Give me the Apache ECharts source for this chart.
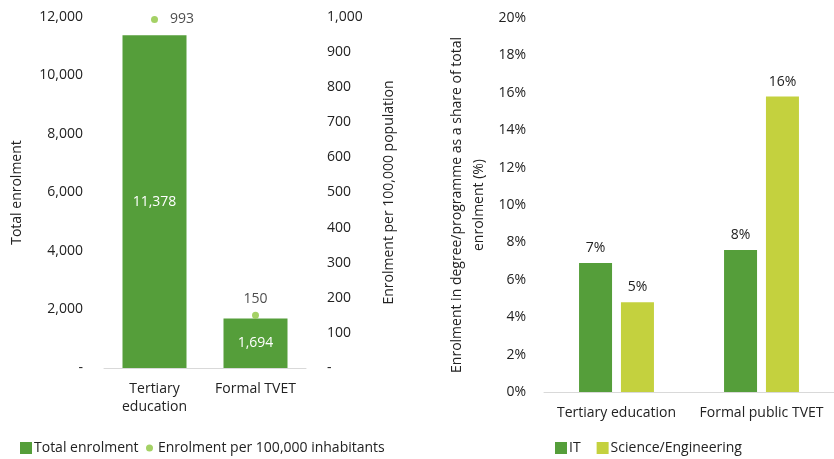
<!DOCTYPE html>
<html>
<head>
<meta charset="utf-8">
<script src="https://cdn.jsdelivr.net/npm/echarts@6/dist/echarts.min.js"></script>
<style>
  html, body { margin: 0; padding: 0; background: #fff; }
  #chart { width: 834px; height: 459px; }
</style>
</head>
<body>
<div id="chart"></div>
<script>
// Left panel: enrolment totals and enrolment per 100,000
const levelCategories = ['Tertiary\neducation', 'Formal TVET'];
const totalEnrolment = [11378, 1694];
const enrolmentPer100k = [993, 150];

// Right panel: share of enrolment by field
const fieldCategories = ['Tertiary education', 'Formal public TVET'];
const itShare = [6.9, 7.6];
const scienceShare = [4.8, 15.8];

const FONT = 'Open Sans';
const TEXT = '#222222';
const GREEN = '#559e3a';
const LIME = '#8dc63f';
const OLIVE = '#c4d13e';

const fmt = v => v === 0 ? '-' : v.toLocaleString('en-US');
const baseText = { fontFamily: FONT, fontSize: 14, color: TEXT };

const chart = echarts.init(document.getElementById('chart'), null, { renderer: 'canvas' });

chart.setOption({
  animation: false,
  textStyle: { fontFamily: FONT, color: TEXT },
  grid: [
    { left: 104, top: 17, width: 202, height: 351 },
    { left: 544, top: 18, width: 296, height: 374 }
  ],
  legend: [
    {
      left: 15, top: 436, itemWidth: 12, itemHeight: 12,
      textStyle: Object.assign({}, baseText, { padding: [0, 0, 0, -3] }),
      data: [{ name: 'Total enrolment', icon: 'rect' }]
    },
    {
      left: 141, top: 436, itemWidth: 7, itemHeight: 7,
      textStyle: Object.assign({}, baseText),
      data: [{ name: 'Enrolment per 100,000 inhabitants', icon: 'circle' }]
    },
    {
      left: 550, top: 436, itemWidth: 12, itemHeight: 12, itemGap: 16,
      textStyle: Object.assign({}, baseText, { padding: [0, 0, 0, -3] }),
      data: [{ name: 'IT', icon: 'rect' }, { name: 'Science/Engineering', icon: 'rect' }]
    }
  ],
  xAxis: [
    {
      type: 'category', gridIndex: 0, data: levelCategories,
      axisTick: { show: false },
      axisLine: { lineStyle: { color: '#d9d9d9', width: 1 } },
      axisLabel: Object.assign({}, baseText, { interval: 0, margin: 12, lineHeight: 18 })
    },
    {
      type: 'category', gridIndex: 1, data: fieldCategories,
      axisTick: { show: false },
      axisLine: { lineStyle: { color: '#d9d9d9', width: 1 } },
      axisLabel: Object.assign({}, baseText, { interval: 0, margin: 14 })
    }
  ],
  yAxis: [
    {
      type: 'value', gridIndex: 0, position: 'left',
      min: 0, max: 12000, interval: 2000,
      splitLine: { show: false }, axisLine: { show: false }, axisTick: { show: false },
      axisLabel: Object.assign({}, baseText, { margin: 21, formatter: fmt }),
      name: 'Total enrolment', nameLocation: 'middle', nameGap: 80,
      nameTextStyle: baseText
    },
    {
      type: 'value', gridIndex: 0, position: 'right',
      min: 0, max: 1000, interval: 100,
      splitLine: { show: false }, axisLine: { show: false }, axisTick: { show: false },
      axisLabel: Object.assign({}, baseText, { margin: 21, formatter: fmt }),
      name: 'Enrolment per 100,000 population', nameLocation: 'middle', nameGap: 76,
      nameTextStyle: baseText
    },
    {
      type: 'value', gridIndex: 1, position: 'left',
      min: 0, max: 20, interval: 2,
      splitLine: { show: false }, axisLine: { show: false }, axisTick: { show: false },
      axisLabel: Object.assign({}, baseText, { margin: 18, formatter: '{value}%' }),
      name: 'Enrolment in degree/programme as a share of total\nenrolment (%)',
      nameLocation: 'middle', nameGap: 54,
      nameTextStyle: Object.assign({}, baseText, { lineHeight: 22 })
    }
  ],
  series: [
    {
      name: 'Total enrolment', type: 'bar', xAxisIndex: 0, yAxisIndex: 0,
      data: totalEnrolment, barWidth: 64,
      itemStyle: { color: GREEN },
      label: {
        show: true, position: 'inside', color: '#fff', fontFamily: FONT, fontSize: 14,
        formatter: p => p.value.toLocaleString('en-US')
      }
    },
    {
      name: 'Enrolment per 100,000 inhabitants', type: 'scatter', xAxisIndex: 0, yAxisIndex: 1,
      data: enrolmentPer100k.map((v, i) => ({
        value: v,
        label: i === 0 ? { position: 'right', distance: 12 } : { position: 'top', distance: 6 }
      })),
      symbolSize: 7,
      itemStyle: { color: LIME },
      label: { show: true, color: TEXT, fontFamily: FONT, fontSize: 14,
        formatter: p => p.value.toLocaleString('en-US') }
    },
    {
      name: 'IT', type: 'bar', xAxisIndex: 1, yAxisIndex: 2,
      data: itShare, barWidth: 33, barGap: '27%',
      itemStyle: { color: GREEN },
      label: { show: true, position: 'top', distance: 8, color: TEXT, fontFamily: FONT, fontSize: 14,
        formatter: p => Math.round(p.value) + '%' }
    },
    {
      name: 'Science/Engineering', type: 'bar', xAxisIndex: 1, yAxisIndex: 2,
      data: scienceShare, barWidth: 33, barGap: '27%',
      itemStyle: { color: OLIVE },
      label: { show: true, position: 'top', distance: 8, color: TEXT, fontFamily: FONT, fontSize: 14,
        formatter: p => Math.round(p.value) + '%' }
    }
  ]
});
</script>
</body>
</html>
